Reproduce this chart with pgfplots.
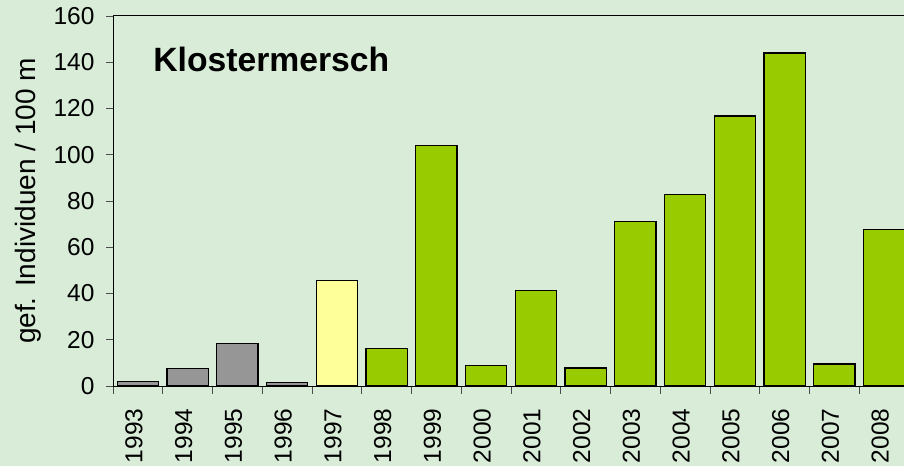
\documentclass[border=0pt]{standalone}
\usepackage{fontspec}
\setmainfont{Liberation Sans}
\usepackage{pgfplots}
\pgfplotsset{compat=1.18}
\definecolor{bgcol}{HTML}{D8ECD8}
\definecolor{barGray}{HTML}{969696}
\definecolor{barYellow}{HTML}{FFFF99}
\definecolor{barGreen}{HTML}{99CC00}
\begin{document}
\begin{tikzpicture}[x=1pt,y=1pt]
\path[use as bounding box, fill=bgcol] (0,0) rectangle (904,466);
\begin{axis}[
  at={(113pt,80pt)}, anchor=south west,
  scale only axis, width=791pt, height=370pt,
  xmin=-0.5, xmax=15.4, ymin=0, ymax=160,
  axis x line*=bottom, axis y line*=left,
  axis line style={-, line width=1pt, black},
  ybar, bar width=0.83, bar shift=0pt,
  ytick={0,20,...,160},
  xtick={0,...,15},
  xticklabels={1993,1994,1995,1996,1997,1998,1999,2000,2001,2002,2003,2004,2005,2006,2007,2008},
  minor xtick={-0.5,0.5,...,15.5},
  major x tick style={draw=none},
  tick align=outside,
  major tick length=7pt, minor tick length=8pt,
  tick style={black!70, line width=0.8pt},
  /pgf/number format/assume math mode=true,
  tick label style={font=\fontsize{24.5}{28}\selectfont},
  y tick label style={xshift=-8pt},
  x tick label style={xshift=-4pt, yshift=-12pt, rotate=90, anchor=east},
  ylabel={gef. Individuen / 100 m},
  ylabel style={at={(axis description cs:-0.1068,0.5)}, anchor=center, font=\fontsize{28}{32}\selectfont},
  clip=true,
]
\addplot[fill=barGray, draw=black, line width=1.4pt] coordinates {
  (0,1.9) (1,7.6) (2,18.3) (3,1.4)
};
\addplot[fill=barYellow, draw=black, line width=1.4pt] coordinates {
  (4,45.6)
};
\addplot[fill=barGreen, draw=black, line width=1.4pt] coordinates {
  (5,16.3) (6,103.9) (7,8.9) (8,41.2) (9,7.8) (10,71.1)
  (11,82.7) (12,116.8) (13,144.0) (14,9.5) (15,67.8)
};
\draw[line width=1pt, black] (rel axis cs:0,1) -- (rel axis cs:1,1);
\node[anchor=base west, font=\fontsize{33.7}{38}\selectfont\bfseries] at (axis description cs:0.0465,0.849) {Klostermersch};
\end{axis}
\end{tikzpicture}
\end{document}
